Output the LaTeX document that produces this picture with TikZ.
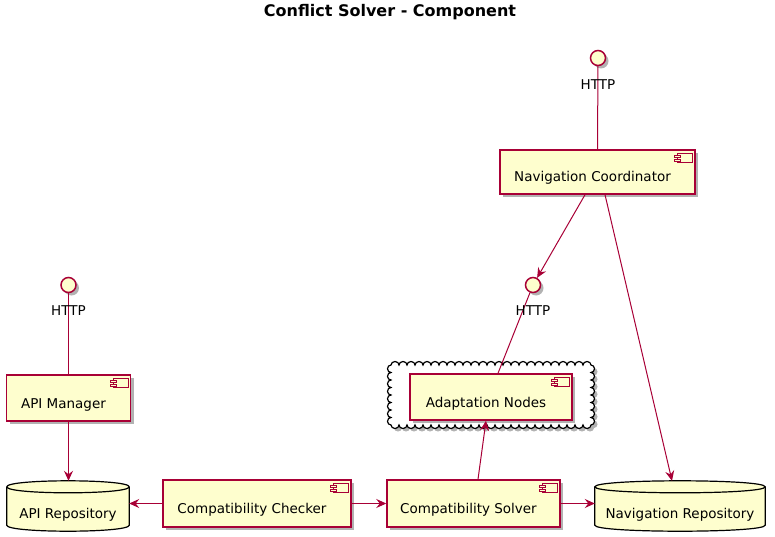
\documentclass[tikz,border=0pt]{standalone}
\usepackage{fontspec}
\setmainfont{DejaVu Sans}
\usetikzlibrary{arrows.meta}
\usetikzlibrary{shadows}
\usetikzlibrary{backgrounds}
\definecolor{umlred}{HTML}{A80036}
\definecolor{umlfill}{HTML}{FEFECE}

% small component symbol in the upper right corner of a box
\newcommand{\compicon}[1]{%
	\begin{scope}[shift={(#1.north east)}]
		\draw[iconline] (-18,4) rectangle (-3,13);
		\draw[iconline] (-21,6) rectangle (-15,8.5);
		\draw[iconline] (-21,10) rectangle (-15,12.5);
	\end{scope}}
% database outline round a node
\newcommand{\dbshape}[1]{%
	\filldraw[dbline] ([yshift=-6pt]#1.north west) .. controls ([yshift=2pt]#1.north west) and ([yshift=2pt]#1.north east) .. ([yshift=-6pt]#1.north east) -- ([yshift=6pt]#1.south east) .. controls ([yshift=-2pt]#1.south east) and ([yshift=-2pt]#1.south west) .. ([yshift=6pt]#1.south west) -- cycle;
	\draw[dbline] ([yshift=-6pt]#1.north west) .. controls ([yshift=-14pt]#1.north west) and ([yshift=-14pt]#1.north east) .. ([yshift=-6pt]#1.north east);}

\begin{document}
\begin{tikzpicture}[x=1pt,y=-1pt,
	every node/.style={font=\fontsize{13.5}{16}\selectfont},
	umlshadow/.style={drop shadow={shadow xshift=3pt,shadow yshift=-3pt,opacity=0.3,fill=black}},
	comp/.style={draw=umlred,fill=umlfill,line width=1.5pt,umlshadow,inner sep=0pt,text height=22pt,text depth=2pt,execute at end node={\hspace{10pt}}},
	iconline/.style={draw=umlred,fill=umlfill,line width=1pt},
	db/.style={inner sep=0pt,text height=26pt,text depth=2pt},
	dbline/.style={draw=black,fill=umlfill,line width=1.2pt},
	iface/.style={circle,draw=umlred,fill=umlfill,line width=1.5pt,minimum size=15pt,inner sep=0pt,umlshadow},
	cloudline/.style={draw=black,fill=white,line width=1.2pt,umlshadow},
	conn/.style={umlred,line width=1pt},
	arr/.style={conn,-{Stealth[length=10pt,width=9pt,inset=3.5pt]}},
	]
	\useasboundingbox (0,0) rectangle (775,537);
	% title
	\node[font=\bfseries\fontsize{16}{19}\selectfont] (title) at (390,12) {Conflict Solver - Component};
	% cloud round the adaptation nodes
	\draw[cloudline] (391,365)
		\foreach \i in {1,...,25} {arc[start angle=180, end angle=360, x radius=4, y radius=3.5]}
		\foreach \i in {1,...,8} {arc[start angle=-90, end angle=90, x radius=3.5, y radius=3.75]}
		\foreach \i in {1,...,25} {arc[start angle=0, end angle=180, x radius=4, y radius=3.5]}
		\foreach \i in {1,...,8} {arc[start angle=90, end angle=270, x radius=3.5, y radius=3.75]}
		-- cycle;
	% interfaces
	\node[iface] (ihttp1) at (598,58) {};
	\node[iface] (ihttp2) at (533,285) {};
	\node[iface] (ihttp3) at (68.5,285) {};
	% components
	\node[comp, minimum width=195, minimum height=44] (navcoord) at (597.5,172) {Navigation Coordinator};
	\node[comp, minimum width=124, minimum height=46] (apimgr) at (68.5,398) {API Manager};
	\node[comp, minimum width=162, minimum height=46] (adapt) at (491,397) {Adaptation Nodes};
	\node[comp, minimum width=188, minimum height=47] (checker) at (257,503.5) {Compatibility Checker};
	\node[comp, minimum width=173, minimum height=47] (solver) at (473.5,503.5) {Compatibility Solver};
	\foreach \n in {navcoord,apimgr,adapt,checker,solver} {\compicon{\n}}
	% databases
	\node[db, minimum width=122, minimum height=50] (apirepo) at (68,506) {API Repository};
	\node[db, minimum width=170, minimum height=50] (navrepo) at (680,506) {Navigation Repository};
	\begin{scope}[on background layer]
		\begin{scope}[umlshadow]
			\dbshape{apirepo}
			\dbshape{navrepo}
		\end{scope}
	\end{scope}
	% connectors
	\draw[conn] (ihttp1) -- (navcoord.north);
	\draw[conn] (ihttp3) -- (apimgr.north);
	\draw[conn] (ihttp2) -- ([xshift=7pt]adapt.north);
	\draw[arr] ([xshift=-12.5pt]navcoord.south) -- (ihttp2);
	\draw[arr] ([xshift=7.5pt]navcoord.south) -- ([xshift=-8pt]navrepo.north);
	\draw[arr] (apimgr.south) -- (apimgr.south |- apirepo.north);
	\draw[arr] (checker.west) -- (checker.west -| apirepo.east);
	\draw[arr] (checker.east) -- (solver.west);
	\draw[arr] (solver.east) -- (solver.east -| navrepo.west);
	\draw[arr] ([xshift=4.5pt]solver.north) -- ([xshift=-5pt]adapt.south);
	% interface labels
	\node (lhttp1) at (598,85) {HTTP};
	\node (lhttp2) at (533,311) {HTTP};
	\node (lhttp3) at (68.5,311) {HTTP};
\end{tikzpicture}
\end{document}
